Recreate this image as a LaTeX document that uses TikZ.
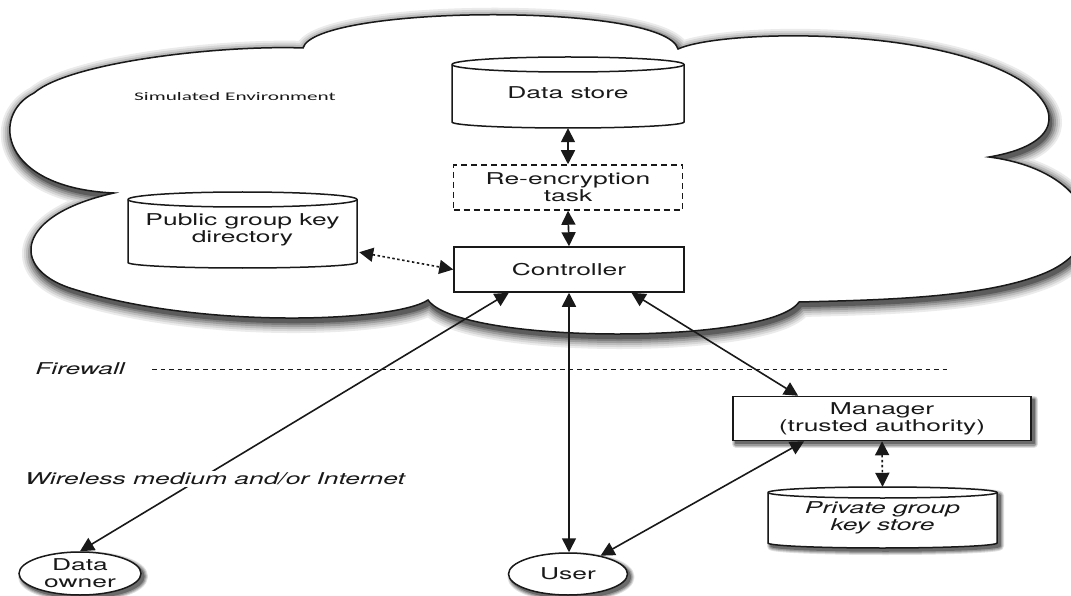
\documentclass[tikz,border=0pt]{standalone}
\usepackage{fontspec}
\newfontfamily\hvfont[FakeStretch=1.62]{TeX Gyre Heros}
\newfontfamily\cbfont[FakeStretch=1.83]{Carlito}
\usetikzlibrary{arrows.meta,calc,shapes.geometric,shadows}

% outline of the environment cloud; #1 = path options
\newcommand\cloudshape[1]{%
  \path[#1]
    (303,48) .. controls (315,5) and (665,2) .. (678,49)
    .. controls (720,30) and (930,25) .. (1020,80)
    .. controls (1065,110) and (1060,145) .. (989,157)
    .. controls (1090,170) and (1120,245) .. (1040,275)
    .. controls (980,298) and (880,300) .. (799,302)
    .. controls (770,345) and (460,345) .. (428,300)
    .. controls (395,322) and (200,330) .. (70,288)
    .. controls (10,268) and (15,215) .. (114,193)
    .. controls (0,188) and (-10,115) .. (34,93)
    .. controls (70,62) and (220,45) .. (303,48) -- cycle;}

% cylinder outline: #1,#2 top-left, #3,#4 bottom-right, #5 top radius, #6 bottom radius, #7 options
\newcommand\cylshape[7]{%
  \path[#7] (#1,#2+#5) -- (#1,#4-#6)
    arc[start angle=180,end angle=360,x radius={(#3-#1)/2*1pt},y radius=#6pt]
    -- (#3,#2+#5)
    arc[start angle=0,end angle=180,x radius={(#3-#1)/2*1pt},y radius=#5pt] -- cycle;}
% front rim of the cylinder top
\newcommand\cylrim[5]{%
  \draw[line width=1.5pt, black!90] (#1,#2+#5)
    arc[start angle=180,end angle=360,x radius={(#3-#1)/2*1pt},y radius=#5pt];}

\tikzset{
  mainfont/.style={font=\hvfont\fontsize{16.3}{16.8}\selectfont},
  box/.style={draw=black!90, line width=1.5pt, fill=white, inner sep=0pt, align=center,
    text=black!90, mainfont},
  dashbox/.style={box, dash pattern=on 6pt off 4pt},
  cyltext/.style={inner sep=0pt, align=center, text=black!90, mainfont},
  cylbody/.style={draw=black!90, fill=white, line width=1.5pt},
  ell/.style={ellipse, draw=black!90, line width=1.5pt, fill=white, inner sep=0pt,
    align=center, text=black!90, mainfont},
  shstep/.style 2 args={fill=black!#1, draw=black!#1, line width=#2, line join=round},
  nodeshadow/.style={
    general shadow={shstep={12}{8pt}, shadow xshift=3pt, shadow yshift=-3pt},
    general shadow={shstep={25}{6pt}, shadow xshift=3pt, shadow yshift=-3pt},
    general shadow={shstep={40}{4pt}, shadow xshift=3pt, shadow yshift=-3pt},
    general shadow={shstep={58}{1.5pt}, shadow xshift=3pt, shadow yshift=-3pt}},
  lbl/.style={text=black!90, mainfont, inner sep=1.5pt},
  itfont/.style={font=\hvfont\itshape\fontsize{16.3}{17.3}\selectfont},
  conn/.style={{Triangle[length=14pt,width=14pt]}-{Triangle[length=14pt,width=14pt]},
    line width=1.6pt, black!90},
  dotconn/.style={conn, dash pattern=on 2.5pt off 2.5pt},
  fwline/.style={line width=1pt, dash pattern=on 4.5pt off 4pt, black!90}
}

\begin{document}
\begin{tikzpicture}[x=1pt, y=-1pt]
\useasboundingbox (0,0) rectangle (1071,596);
\fill[white] (0,0) rectangle (1071,596);

% the cloud of the simulated environment, with a soft shadow
\cloudshape{shstep={8}{22pt}, shift={(2,4)}}
\cloudshape{shstep={16}{18pt}, shift={(2,4)}}
\cloudshape{shstep={26}{14pt}, shift={(2,4)}}
\cloudshape{shstep={38}{10pt}, shift={(2,4)}}
\cloudshape{shstep={50}{6pt}, shift={(2,4)}}
\cloudshape{shstep={64}{2.5pt}, shift={(2,4)}}
\cloudshape{draw=black!90, fill=white, line width=1.5pt}

\node[text=black!90, font=\cbfont\fontsize{11.6}{13}\selectfont, inner sep=0pt] (env) at (235,96.5) {Simulated Environment};

% stores inside the cloud
\cylshape{452}{57}{684}{128}{7.5}{6}{cylbody}
\cylrim{452}{57}{684}{128}{7.5}
\node[cyltext, minimum width=232pt, minimum height=71pt] (ds) at (568,92.5) {Data store};

\cylshape{128}{192}{357}{268}{7.5}{5.5}{cylbody}
\cylrim{128}{192}{357}{268}{7.5}
\node[cyltext, minimum width=229pt, minimum height=76pt] (pub) at (242.5,230) {Public group key\\directory};

% processing boxes
\node[dashbox, minimum width=229pt, minimum height=45pt] (re) at (568,187.5) {Re-encryption\\task};
\node[box, minimum width=230pt, minimum height=45pt] (ctrl) at (569,269.5) {Controller};

% private key store, with shadow
\cylshape{768}{487}{997}{548}{5.5}{5}{shstep={12}{8pt}, shift={(3,3)}}
\cylshape{768}{487}{997}{548}{5.5}{5}{shstep={25}{6pt}, shift={(3,3)}}
\cylshape{768}{487}{997}{548}{5.5}{5}{shstep={40}{4pt}, shift={(3,3)}}
\cylshape{768}{487}{997}{548}{5.5}{5}{shstep={58}{1.5pt}, shift={(3,3)}}
\cylshape{768}{487}{997}{548}{5.5}{5}{cylbody}
\cylrim{768}{487}{997}{548}{5.5}
\node[cyltext, itfont, minimum width=229pt, minimum height=61pt] (priv) at (882.5,517.5) {Private group\\key store};

\node[box, nodeshadow, minimum width=298pt, minimum height=44pt] (mgr) at (882,418.5) {Manager\\(trusted authority)};

% parties
\node[ell, nodeshadow, minimum width=122pt, minimum height=43pt] (owner) at (80,573.5) {Data\\owner};
\node[ell, nodeshadow, minimum width=119pt, minimum height=42pt] (user) at (568,574) {User};

% firewall
\node[lbl, itfont] (fw) at (80,369) {Firewall};
\coordinate (fwstart) at (152,369);
\coordinate (fwend) at (949,369);
\draw[fwline] (fwstart) -- (fwend);

% connections
\draw[conn] (ds.south) -- (re.north);
\draw[conn] (re.south) -- (ctrl.north);
\draw[dotconn] ($(pub.south east)+(2,-16)$) -- (ctrl.west);
\draw[conn] ($(ctrl.south west)!0.24!(ctrl.south east)$) -- (owner.north);
\draw[conn] (ctrl.south) -- (ctrl.south |- user.north);
\draw[conn] ($(ctrl.south west)!0.77!(ctrl.south east)$) -- ($(mgr.north west)!0.22!(mgr.north east)$);
\draw[conn] ($(mgr.south west)!0.24!(mgr.south east)$) -- (user);
\draw[dotconn] (mgr.south) -- (priv.north);

\node[lbl, itfont, fill=white] (wl) at (215,479) {Wireless medium and/or Internet};
\end{tikzpicture}
\end{document}
